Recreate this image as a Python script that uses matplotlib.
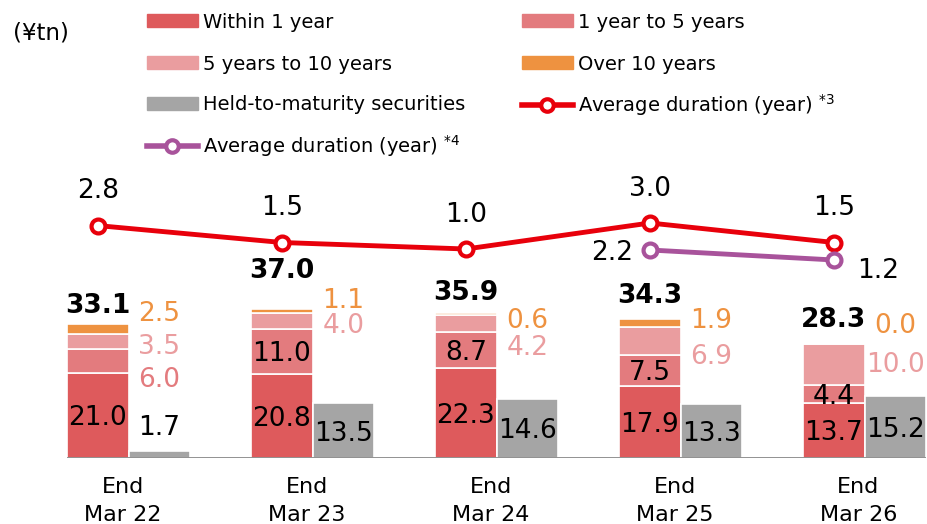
import numpy as np
import matplotlib.pyplot as plt
from matplotlib.patches import Patch
from matplotlib.lines import Line2D

# data (¥tn, years)
periods = ['End\nMar 22', 'End\nMar 23', 'End\nMar 24', 'End\nMar 25', 'End\nMar 26']
within_1y = [21.0, 20.8, 22.3, 17.9, 13.7]
y1_to_5 = [6.0, 11.0, 8.7, 7.5, 4.4]
y5_to_10 = [3.5, 4.0, 4.2, 6.9, 10.0]
over_10 = [2.5, 1.1, 0.6, 1.9, 0.0]
totals = ['33.1', '37.0', '35.9', '34.3', '28.3']
htm = [1.7, 13.5, 14.6, 13.3, 15.2]
duration3 = [2.8, 1.5, 1.0, 3.0, 1.5]
duration4 = [np.nan, np.nan, np.nan, 2.2, 1.2]

# label layout (heights in ¥tn units, nan = label inside the segment)
out_y_1to5 = [20.0, np.nan, np.nan, np.nan, np.nan]
out_y_5to10 = [28.1, 33.3, 28.0, 25.7, 23.7]
out_y_over10 = [36.3, 39.5, 34.6, 34.6, 33.3]
total_y = [38.3, 46.9, 41.5, 40.7, 34.8]

c_w1 = '#de5a5c'
c_15 = '#e37b7e'
c_510 = '#ea9d9f'
c_o10 = '#ee9240'
c_htm = '#a5a5a5'
c_d3 = '#e8000b'
c_d4 = '#a8539b'

plt.rcParams['font.family'] = ['DejaVu Sans']
fig = plt.figure(figsize=(9.28, 5.24), dpi=100)
rect = [0, 66 / 524, 1, 458 / 524]
ax = fig.add_axes(rect)
n = len(periods)
x_red = np.arange(n) * 3.0
x_gray = x_red + 1

w1 = np.array(within_1y)
a15 = np.array(y1_to_5)
a510 = np.array(y5_to_10)
a10 = np.array(over_10)
kw = dict(width=1.0, edgecolor='white', linewidth=1.2)
ax.bar(x_red, w1, color=c_w1, **kw)
ax.bar(x_red, a15, bottom=w1, color=c_15, **kw)
ax.bar(x_red, a510, bottom=w1 + a15, color=c_510, **kw)
ax.bar(x_red, a10, bottom=w1 + a15 + a510, color=c_o10, **kw)
ax.bar(x_gray, htm, color=c_htm, **kw)

ax.hlines(0, -0.5, x_gray[-1] + 0.5, color='#808080', lw=1.2, zorder=3)
ax.hlines(np.full(n - 1, -0.35), x_red[:-1] + 1.7, x_red[:-1] + 2.3, color='#7a7a7a', lw=1.5)

fs = 19
va = 'center_baseline'
for i in range(n):
    ax.text(x_red[i], w1[i] / 2, f'{w1[i]:.1f}', ha='center', va=va, fontsize=fs)
    if np.isnan(out_y_1to5[i]):
        ax.text(x_red[i], w1[i] + a15[i] / 2, f'{a15[i]:.1f}', ha='center', va=va, fontsize=fs)
    else:
        ax.text(x_gray[i], out_y_1to5[i], f'{a15[i]:.1f}', ha='center', va=va, fontsize=fs, color=c_15)
    ax.text(x_gray[i], out_y_5to10[i], f'{a510[i]:.1f}', ha='center', va=va, fontsize=fs, color=c_510)
    ax.text(x_gray[i], out_y_over10[i], f'{a10[i]:.1f}', ha='center', va=va, fontsize=fs, color=c_o10)
    ax.text(x_red[i], total_y[i], totals[i], ha='center', va=va, fontsize=fs, fontweight='bold')
    hy = htm[i] / 2 if htm[i] > 5 else htm[i] + 6.4
    ax.text(x_gray[i], hy, f'{htm[i]:.1f}', ha='center', va=va, fontsize=fs)

ax.set_xlim(-98 / 61.33, (928 - 98) / 61.33)
ax.set_ylim(0, 458 / 4.05)
ax.set_xticks(x_red + 0.4)
ax.set_xticklabels(periods, fontsize=16, linespacing=1.45)
ax.tick_params(axis='x', length=0, pad=14)
ax.set_yticks([])
for s in ax.spines.values():
    s.set_visible(False)

# duration lines on their own scales
ax2 = fig.add_axes(rect)
ax2.set_xlim(ax.get_xlim())
ax2.set_ylim(-196 / 13, 262 / 13)
ax2.plot(x_red, duration3, color=c_d3, lw=3.5, marker='o', ms=10, mfc='white', mec=c_d3, mew=3)
for i in range(n):
    ax2.annotate(f'{duration3[i]:.1f}', (x_red[i], duration3[i]), xytext=(0, 27),
                 textcoords='offset points', ha='center', va=va, fontsize=fs)
ax2.axis('off')

ax3 = fig.add_axes(rect)
ax3.set_xlim(ax.get_xlim())
ax3.set_ylim(-186 / 10, 272 / 10)
ax3.plot(x_red, duration4, color=c_d4, lw=3.5, marker='o', ms=10, mfc='white', mec=c_d4, mew=3)
ax3.annotate(f'{duration4[3]:.1f}', (x_red[3], duration4[3]), xytext=(-27, 0),
             textcoords='offset points', ha='center', va=va, fontsize=fs)
ax3.annotate(f'{duration4[4]:.1f}', (x_red[4], duration4[4]), xytext=(32, -6),
             textcoords='offset points', ha='center', va=va, fontsize=fs)
ax3.axis('off')

fig.text(41 / 928, 1 - 33 / 524, '(¥tn)', ha='center', va='center', fontsize=16.5)

def line_handle(c):
    return Line2D([], [], color=c, lw=4, marker='o', ms=9, mfc='white', mec=c, mew=3)

# legend entries laid out row by row
entries = [
    (Patch(color=c_w1), 'Within 1 year', 0, 0),
    (Patch(color=c_15), '1 year to 5 years', 1, 0),
    (Patch(color=c_510), '5 years to 10 years', 0, 1),
    (Patch(color=c_o10), 'Over 10 years', 1, 1),
    (Patch(color=c_htm), 'Held-to-maturity securities', 0, 2),
    (line_handle(c_d3), r'Average duration (year) $^{*3}$', 1, 2),
    (line_handle(c_d4), r'Average duration (year) $^{*4}$', 0, 3),
]
col_x = [147, 522]
row_y = [22, 64, 105, 146]
for h, lab, c, r in entries:
    fig.legend([h], [lab], frameon=False, fontsize=14, handlelength=2.6, handleheight=0.6,
               handletextpad=0.3, borderpad=0, borderaxespad=0, loc='center left',
               bbox_to_anchor=(col_x[c] / 928, 1 - row_y[r] / 524))

fig.savefig('out.png', dpi=100)
